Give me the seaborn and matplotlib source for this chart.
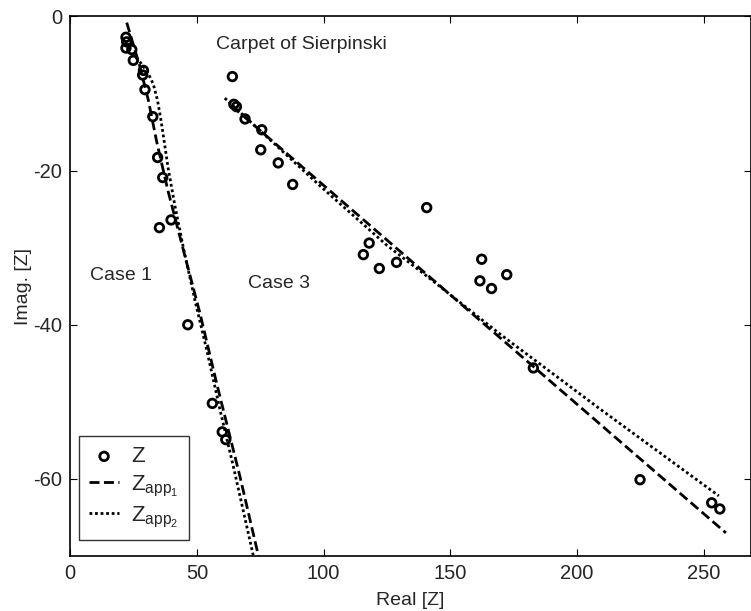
import matplotlib
matplotlib.use("Agg")
import matplotlib.pyplot as plt
import seaborn as sns
import pandas as pd
import numpy as np

# ---- data ----
case1_re = [22.0, 22.3, 22.0, 24.3, 24.9, 28.9, 28.6, 29.5, 32.6, 34.5, 36.5, 39.8, 35.2, 46.4, 56.1, 60.0, 61.4]
case1_im = [-2.7, -3.3, -4.1, -4.3, -5.7, -7.0, -7.6, -9.5, -13.0, -18.3, -20.9, -26.4, -27.4, -40.0, -50.2, -53.9, -54.9]
case3_re = [64.0, 64.6, 65.6, 69.0, 75.6, 75.2, 82.1, 87.8, 140.7, 118.0, 115.7, 122.0, 128.8,
            162.4, 161.7, 166.3, 172.3, 182.8, 224.9, 253.2, 256.4]
case3_im = [-7.8, -11.4, -11.7, -13.3, -14.7, -17.3, -19.0, -21.8, -24.8, -29.4, -30.9, -32.7, -31.9,
            -31.5, -34.3, -35.3, -33.5, -45.6, -60.1, -63.1, -63.9]

app1_case1_re = [22.3, 27.5, 30.8, 34.1, 38.5, 46.0, 51.2, 57.8, 67.0, 74.3]
app1_case1_im = [-0.8, -6.5, -10.8, -16.2, -22.5, -32.0, -38.5, -47.6, -59.7, -70.0]
app2_case1_re = [24.5, 27.5, 30.5, 32.8, 34.4, 35.7, 37.0, 38.6, 41.4, 44.6, 49.2, 53.9, 59.1, 64.4, 72.3]
app2_case1_im = [-4.8, -5.9, -7.2, -8.8, -10.8, -13.2, -16.0, -19.6, -24.7, -29.9, -36.8, -43.3, -51.0, -58.4, -70.0]

app1_case3_re = [63.7, 258.8]
app1_case3_im = [-11.6, -67.0]
app2_case3_re = [61.0, 100.0, 125.0, 140.0, 170.0, 209.0, 256.0]
app2_case3_im = [-10.6, -22.4, -29.7, -33.5, -41.3, -50.9, -62.2]

xticks = [0, 50, 100, 150, 200, 250]
yticks = [0, -20, -40, -60]

# ---- style ----
sns.set_style("ticks")
plt.rcParams["font.family"] = ["Liberation Sans", "DejaVu Sans"]
plt.rcParams["mathtext.fontset"] = "custom"
plt.rcParams["mathtext.rm"] = "Liberation Sans"
plt.rcParams["mathtext.it"] = "Liberation Sans"
plt.rcParams["axes.unicode_minus"] = False
plt.rcParams["xtick.direction"] = "in"
plt.rcParams["ytick.direction"] = "in"

fig = plt.figure(figsize=(7.51, 6.11), dpi=100)
ax = fig.add_axes([0.0935, 0.090, 0.9065, 0.8831])

pts = pd.DataFrame({"re": case1_re + case3_re, "im": case1_im + case3_im})
sns.scatterplot(data=pts, x="re", y="im", ax=ax, marker="o", s=38,
                facecolor="none", edgecolor="black", linewidth=2.0, zorder=3,
                label=r"$\mathregular{Z}$")

dash_kw = dict(color="black", linewidth=2.0, sort=False, estimator=None)
DASH = [3.6, 1.6]
DOT = (0, (1, 1))
l1 = pd.DataFrame({"re": app1_case1_re, "im": app1_case1_im})
sns.lineplot(data=l1, x="re", y="im", ax=ax, label=r"$\mathregular{Z_{app_1}}$", **dash_kw)
ax.lines[-1].set_dashes(DASH)
l3 = pd.DataFrame({"re": app1_case3_re, "im": app1_case3_im})
sns.lineplot(data=l3, x="re", y="im", ax=ax, **dash_kw)
ax.lines[-1].set_dashes(DASH)

l2 = pd.DataFrame({"re": app2_case1_re, "im": app2_case1_im})
sns.lineplot(data=l2, x="re", y="im", ax=ax, label=r"$\mathregular{Z_{app_2}}$", **dash_kw)
ax.lines[-1].set_linestyle(DOT)
l4 = pd.DataFrame({"re": app2_case3_re, "im": app2_case3_im})
sns.lineplot(data=l4, x="re", y="im", ax=ax, **dash_kw)
ax.lines[-1].set_linestyle(DOT)

ax.set_xlim(0, 268.7)
ax.set_ylim(-70, 0)
ax.set_xticks(xticks)
ax.set_yticks(yticks)
ax.tick_params(axis="both", labelsize=14.5, length=5, width=0.8, top=True, right=True,
               color="black", pad=6)
for s in ax.spines.values():
    s.set_visible(True)
    s.set_linewidth(1.2)
    s.set_color("black")

ax.set_xlabel("Real [Z]", fontsize=14)
ax.set_ylabel("Imag. [Z]", fontsize=14)
ax.xaxis.set_label_coords(0.5, -0.066)
ax.yaxis.set_label_coords(-0.056, 0.5)

ax.text(57.5, -3.7, "Carpet of Sierpinski", fontsize=14, va="center", ha="left")
ax.text(7.8, -33.6, "Case 1", fontsize=14, va="center", ha="left")
ax.text(70.0, -34.6, "Case 3", fontsize=14, va="center", ha="left")

handles, labels = ax.get_legend_handles_labels()
leg = ax.legend(handles, labels, loc="lower left", bbox_to_anchor=(0.013, 0.03),
                borderaxespad=0, fontsize=16, frameon=True, fancybox=False,
                labelspacing=0.28, handlelength=1.35, handletextpad=0.55, borderpad=0.45)
leg.get_frame().set_edgecolor("black")
leg.get_frame().set_linewidth(1.0)

fig.savefig("out.png", dpi=100)
